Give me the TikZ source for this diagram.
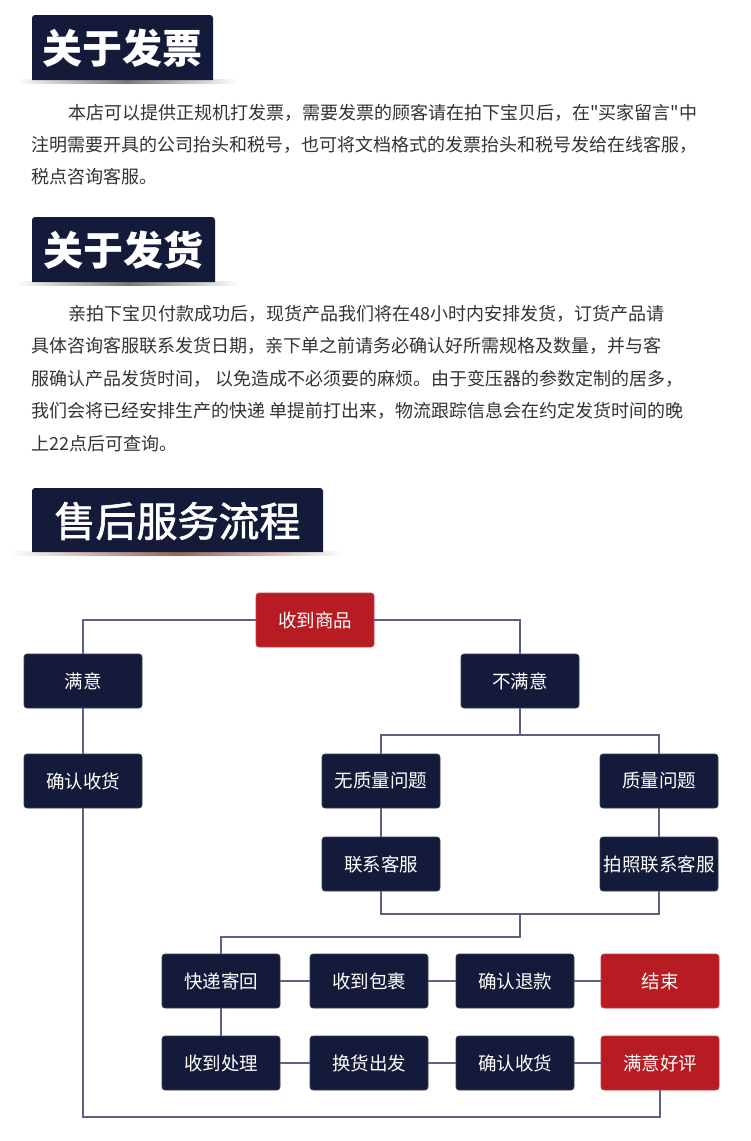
\documentclass[tikz,border=0pt]{standalone}
\usepackage{fontspec}
\newfontfamily\cjk{Noto Sans CJK SC}
\newfontfamily\cjksemi[FakeBold=1.5]{Noto Sans CJK SC}
\usetikzlibrary{positioning}
\definecolor{navy}{RGB}{20,27,58}
\definecolor{bred}{RGB}{184,28,35}
\definecolor{lnc}{RGB}{92,98,128}
\definecolor{txt}{RGB}{51,51,51}
\definecolor{shd}{RGB}{120,120,120}
\definecolor{shdr}{RGB}{150,100,90}
\tikzset{
  fbox/.style={rectangle, rounded corners=3pt, fill=navy, draw=navy!85!white, line width=0.6pt,
    minimum width=118pt, minimum height=54pt, inner sep=0pt, text=white,
    font=\cjk\fontsize{18.5}{20}\selectfont},
  rbox/.style={fbox, fill=bred, draw=bred!85!white},
  btext/.style={text=white, inner sep=0pt, font=\cjk\bfseries\fontsize{40}{44}\selectfont},
  btext3/.style={text=white, inner sep=0pt, font=\cjksemi\fontsize{41}{44}\selectfont},
  para/.style={anchor=base west, inner sep=0pt, text=txt, font=\cjk\fontsize{18}{20}\selectfont},
  conn/.style={draw=lnc, line width=1.2pt}
}
\begin{document}
\begin{tikzpicture}[x=1pt,y=-1pt]
\useasboundingbox (0,0) rectangle (750,1141);
\fill[white] (0,0) rectangle (750,1141);

% banner 1
\shade[left color=white, right color=white, middle color=shd] (16,79) rectangle (238,83);
\fill[navy] (32,80) [rounded corners=3pt] -- (32,15) -- (213,15) [sharp corners] -- (213,80) -- cycle;
\node[btext] (h1) at (122.5,48) {关于发票};

% paragraph 1
\node[para] (p11) at (68,119) {本店可以提供正规机打发票，需要发票的顾客请在拍下宝贝后，在"买家留言"中};
\node[para] (p12) at (31,151) {注明需要开具的公司抬头和税号，也可将文档格式的发票抬头和税号发给在线客服，};
\node[para] (p13) at (31,183) {税点咨询客服。};

% banner 2
\shade[left color=white, right color=white, middle color=shd] (16,281) rectangle (240,285);
\fill[navy] (32,282) [rounded corners=3pt] -- (32,217) -- (215,217) [sharp corners] -- (215,282) -- cycle;
\node[btext] (h2) at (123.5,250) {关于发货};

% paragraph 2
\node[para] (p21) at (68,320) {亲拍下宝贝付款成功后，现货产品我们将在48小时内安排发货，订货产品请};
\node[para] (p22) at (31,352.5) {具体咨询客服联系发货日期，亲下单之前请务必确认好所需规格及数量，并与客};
\node[para] (p23) at (31,385) {服确认产品发货时间， 以免造成不必须要的麻烦。由于变压器的参数定制的居多，};
\node[para] (p24) at (31,417.5) {我们会将已经安排生产的快递 单提前打出来，物流跟踪信息会在约定发货时间的晚};
\node[para] (p25) at (31,450) {上22点后可查询。};

% banner 3
\shade[left color=white, right color=white, middle color=shdr] (10,551) rectangle (345,555);
\fill[navy] (32,552) [rounded corners=3pt] -- (32,488) -- (323,488) [sharp corners] -- (323,552) -- cycle;
\node[btext3] (h3) at (177.5,521) {售后服务流程};

% flow nodes
\node[rbox] (get) at (315,620) {收到商品};
\node[fbox] (sat) at (83,681) {满意};
\node[fbox] (unsat) at (520,681) {不满意};
\node[fbox] (conf1) at (83,781) {确认收货};
\node[fbox] (noq) at (381,781) {无质量问题};
\node[fbox] (q) at (659,781) {质量问题};
\node[fbox] (cs1) at (381,864) {联系客服};
\node[fbox] (cs2) at (659,864) {拍照联系客服};

\node[fbox] (ra) at (221,981) {快递寄回};
\node[fbox] (rb) at (369,981) {收到包裹};
\node[fbox] (rc) at (515,981) {确认退款};
\node[rbox] (rd) at (660,981) {结束};

\node[fbox] (sa) at (221,1063) {收到处理};
\node[fbox] (sb) at (369,1063) {换货出发};
\node[fbox] (sc) at (515,1063) {确认收货};
\node[rbox] (sd) at (660,1063) {满意好评};

% coordinates
\coordinate (split) at (520,735);
\coordinate (join) at (520,914);
\coordinate (drop) at (520,937);
\coordinate (lb) at (83,1117);

% connectors
\draw[conn] (get.west) -| (sat.north);
\draw[conn] (get.east) -| (unsat.north);
\draw[conn] (sat.south) -- (conf1.north);
\draw[conn] (conf1.south) -- (lb) -| (sd.south);
\draw[conn] (unsat.south) -- (split);
\draw[conn] (noq.north) |- (split) -| (q.north);
\draw[conn] (noq.south) -- (cs1.north);
\draw[conn] (q.south) -- (cs2.north);
\draw[conn] (cs1.south) |- (join) -| (cs2.south);
\draw[conn] (join) -- (drop) -| (ra.north);
\draw[conn] (ra.east) -- (rb.west);
\draw[conn] (rb.east) -- (rc.west);
\draw[conn] (rc.east) -- (rd.west);
\draw[conn] (sa.east) -- (sb.west);
\draw[conn] (sb.east) -- (sc.west);
\draw[conn] (sc.east) -- (sd.west);
\draw[conn] (ra.south) -- (sa.north);
\end{tikzpicture}
\end{document}
